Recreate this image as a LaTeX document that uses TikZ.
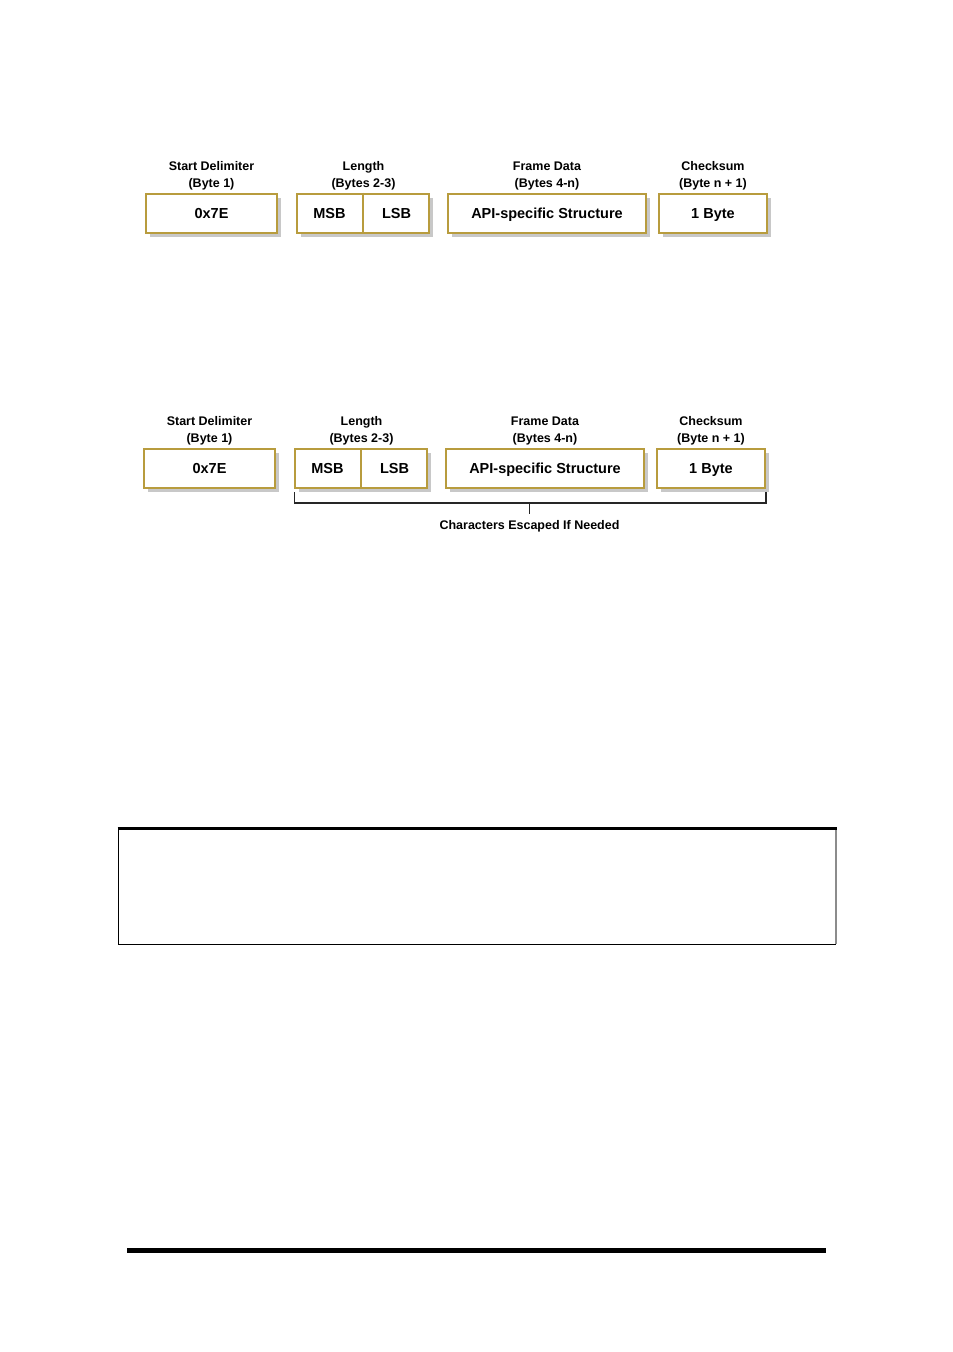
\documentclass[tikz,border=0pt]{standalone}
\usepackage{fontspec}
\setmainfont{Liberation Sans}
\usetikzlibrary{shadows}
\definecolor{gold}{RGB}{184,156,62}
\definecolor{shad}{RGB}{200,200,200}
\tikzset{
  fbox/.style={draw=gold, line width=2.6pt, fill=white, inner sep=0pt,
    minimum height=39pt, text height=10.5pt, text depth=0pt,
    font=\fontsize{14.5}{17}\selectfont\bfseries,
    drop shadow={shadow xshift=3.5pt, shadow yshift=-3.5pt, fill=shad, opacity=1}},
  ftext/.style={inner sep=0pt, text height=10.5pt, text depth=0pt,
    font=\fontsize{14.5}{17}\selectfont\bfseries},
  divider/.style={draw=gold, line width=2.6pt},
  flabel/.style={align=center, inner sep=0pt, font=\fontsize{12.5}{17}\selectfont\bfseries},
  brk/.style={line width=1.6pt, black!85},
}
\begin{document}
\begin{tikzpicture}[x=1pt,y=-1pt]
\useasboundingbox (0,0) rectangle (953,1352);
% ---- row 1 ----
\node[flabel] (l1a) at (211.5,175.5) {Start Delimiter\\(Byte 1)};
\node[flabel] (l1b) at (363.5,175.5) {Length\\(Bytes 2-3)};
\node[flabel] (l1c) at (547,175.5) {Frame Data\\(Bytes 4-n)};
\node[flabel] (l1d) at (713,175.5) {Checksum\\(Byte n + 1)};
\node[fbox, minimum width=131pt] (b1a) at (211.5,213.5) {0x7E};
\node[fbox, minimum width=132pt] (b1len) at (363,213.5) {};
\node[ftext] (b1b) at (329.5,213.5) {MSB};
\node[ftext] (b1c) at (396.5,213.5) {LSB};
\draw[divider] (b1len.north) -- (b1len.south);
\node[fbox, minimum width=198pt] (b1d) at (547,213.5) {API-specific Structure};
\node[fbox, minimum width=108pt] (b1e) at (713,213.5) {1 Byte};
% ---- row 2 ----
\node[flabel] (l2a) at (209.5,430.5) {Start Delimiter\\(Byte 1)};
\node[flabel] (l2b) at (361.5,430.5) {Length\\(Bytes 2-3)};
\node[flabel] (l2c) at (545,430.5) {Frame Data\\(Bytes 4-n)};
\node[flabel] (l2d) at (711,430.5) {Checksum\\(Byte n + 1)};
\node[fbox, minimum width=131pt] (b2a) at (209.5,468.5) {0x7E};
\node[fbox, minimum width=132pt] (b2len) at (361,468.5) {};
\node[ftext] (b2b) at (327.5,468.5) {MSB};
\node[ftext] (b2c) at (394.5,468.5) {LSB};
\draw[divider] (b2len.north) -- (b2len.south);
\node[fbox, minimum width=198pt] (b2d) at (545,468.5) {API-specific Structure};
\node[fbox, minimum width=108pt] (b2e) at (711,468.5) {1 Byte};
% bracket
\coordinate (bl) at (294.5,492);
\coordinate (br) at (766,492);
\coordinate (bm) at (529.5,503);
\coordinate (bmt) at (529.5,514);
\draw[brk] (bl) |- (bm) -| (br);
\draw[brk, line width=2.6pt] (br) -- ++(0,11);
\draw[brk] (bm) -- (bmt);
\node[flabel, anchor=north] (esc) at (529.5,520) {Characters Escaped If Needed};
% ---- empty table box ----
\draw[line width=1pt] (118.5,828) -- (118.5,944) -- (836,944);
\draw[line width=1.2pt, black!45] (836,828) -- (836,944);
\draw[line width=3pt] (117.5,828) -- (836.5,828);
% ---- footer rule ----
\coordinate (f1) at (127,1250);
\coordinate (f2) at (826,1250);
\draw[line width=5pt] (f1) -- (f2);
\end{tikzpicture}
\end{document}
